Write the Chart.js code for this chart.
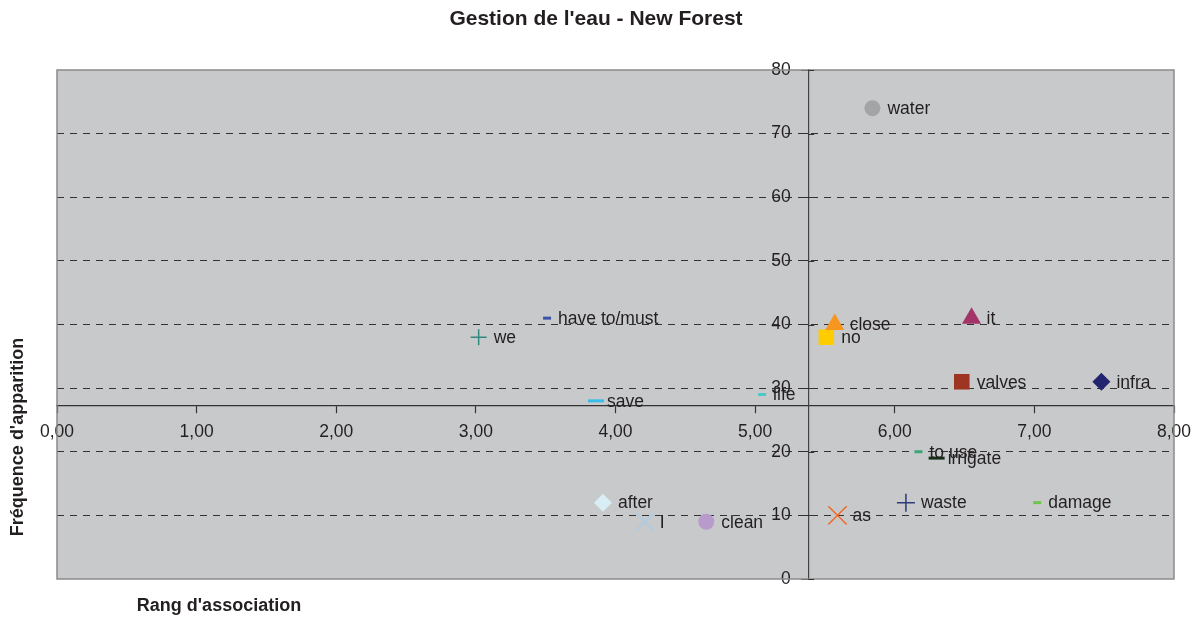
<!DOCTYPE html>
<html>
<head>
<meta charset="utf-8">
<script src="https://cdn.jsdelivr.net/npm/chart.js@4.4.1/dist/chart.umd.min.js"></script>
<style>
  html, body { margin: 0; padding: 0; background: #fff; }
  #wrap { width: 1202px; height: 619px; position: relative; }
</style>
</head>
<body>
<div id="wrap"><canvas id="chart"></canvas></div>
<script>
// words and their values (rang d'association, fréquence d'apparition)
const words = ["water", "we", "have to/must", "save", "life", "close", "no", "it", "valves", "infra",
  "to use", "irrigate", "waste", "damage", "as", "after", "I", "clean"];
const rangs = [5.84, 3.02, 3.51, 3.86, 5.05, 5.57, 5.51, 6.55, 6.48, 7.48,
  6.17, 6.30, 6.08, 7.02, 5.59, 3.91, 4.21, 4.65];
const freqs = [74, 38, 41, 28, 29, 40, 38, 41, 31, 31,
  20, 19, 12, 12, 10, 12, 9, 9];
const xTicks = [0, 1, 2, 3, 4, 5, 6, 7, 8];
const yTicks = [0, 10, 20, 30, 40, 50, 60, 70, 80];
const crossX = 5.38;  // mean rang, where the y axis crosses
const crossY = 27.3;  // mean frequency, where the x axis crosses

// marker style per word
const markers = [
  { style: "circle", color: "#a3a4a6", r: 8 },
  { style: "cross", color: "#2f8a80", r: 8, w: 1.5 },
  { style: "line", color: "#3a55a8", r: 4, w: 3 },
  { style: "line", color: "#38bde8", r: 8, w: 3 },
  { style: "line", color: "#4cc8c8", r: 4, w: 3 },
  { style: "triangle", color: "#f7961e", r: 11 },
  { style: "rect", color: "#ffcc00", r: 11 },
  { style: "triangle", color: "#a23468", r: 11 },
  { style: "rect", color: "#9e3522", r: 11 },
  { style: "rectRot", color: "#23256f", r: 9 },
  { style: "line", color: "#3aa878", r: 4, w: 3 },
  { style: "line", color: "#143018", r: 8, w: 3 },
  { style: "cross", color: "#2b3c78", r: 9, w: 1.5 },
  { style: "line", color: "#6cc648", r: 4, w: 3 },
  { style: "crossRot", color: "#ee6a2a", r: 13, w: 1.5 },
  { style: "rectRot", color: "#d8eef4", r: 9 },
  { style: "crossRot", color: "#a8cce8", r: 12, w: 1.5 },
  { style: "circle", color: "#b89bcc", r: 8 }
];

const datasets = words.map((w, i) => {
  const m = markers[i];
  const outline = m.style === "cross" || m.style === "crossRot" || m.style === "line";
  return {
    label: w,
    data: [{ x: rangs[i], y: freqs[i] }],
    pointStyle: m.style,
    pointRadius: m.r,
    pointHoverRadius: m.r,
    backgroundColor: m.color,
    borderColor: m.color,
    pointBorderWidth: outline ? m.w : 0
  };
});

const FONT = "'Liberation Sans', Arial, sans-serif";

const decor = {
  id: "decor",
  beforeDraw(chart) {
    const { ctx, chartArea: a } = chart;
    ctx.save();
    ctx.fillStyle = "#c8c9cb";
    ctx.fillRect(a.left, a.top, a.right - a.left, a.bottom - a.top);
    ctx.restore();
  },
  afterDatasetsDraw(chart) {
    const { ctx } = chart;
    ctx.save();
    ctx.font = "17.5px " + FONT;
    ctx.fillStyle = "#231f20";
    ctx.textBaseline = "middle";
    ctx.textAlign = "left";
    chart.data.datasets.forEach((ds, i) => {
      const el = chart.getDatasetMeta(i).data[0];
      const off = markers[i].style === "line" ? 11 : 15;
      ctx.fillText(ds.label, el.x + off, el.y + 1);
    });
    ctx.restore();
  },
  afterDraw(chart) {
    const { ctx, chartArea: a } = chart;
    ctx.save();
    ctx.strokeStyle = "#8a8b8d";
    ctx.lineWidth = 1.5;
    ctx.strokeRect(a.left, a.top, a.right - a.left, a.bottom - a.top);
    // inner half of the y axis tick marks (they cross the axis)
    const xs = chart.scales.x.getPixelForValue(crossX);
    ctx.strokeStyle = "#333";
    ctx.lineWidth = 1;
    yTicks.forEach(v => {
      const py = Math.round(chart.scales.y.getPixelForValue(v)) + 0.5;
      ctx.beginPath();
      ctx.moveTo(xs, py);
      ctx.lineTo(xs + 6, py);
      ctx.stroke();
    });
    ctx.fillStyle = "#231f20";
    ctx.font = "bold 21px " + FONT;
    ctx.textAlign = "center";
    ctx.textBaseline = "middle";
    ctx.fillText("Gestion de l'eau - New Forest", 596, 19);
    ctx.font = "bold 18px " + FONT;
    ctx.fillText("Rang d'association", 219, 606);
    ctx.translate(18, 437);
    ctx.rotate(-Math.PI / 2);
    ctx.fillText("Fréquence d'apparition", 0, 0);
    ctx.restore();
  }
};

new Chart(document.getElementById("chart"), {
  type: "scatter",
  data: { datasets },
  options: {
    responsive: true,
    maintainAspectRatio: false,
    animation: false,
    events: [],
    layout: { padding: { left: 57, right: 28, top: 70, bottom: 40 } },
    plugins: { legend: { display: false }, tooltip: { enabled: false }, title: { display: false } },
    scales: {
      x: {
        type: "linear",
        min: 0,
        max: 8,
        position: { y: crossY },
        afterBuildTicks: (s) => { s.ticks = xTicks.map(v => ({ value: v })); },
        ticks: {
          color: "#231f20",
          font: { size: 17.5, family: FONT },
          padding: 9,
          maxRotation: 0,
          callback: (v) => v.toFixed(2).replace(".", ",")
        },
        grid: { drawOnChartArea: false, drawTicks: true, tickLength: 7, tickColor: "#333", tickWidth: 1.2 },
        border: { display: true, color: "#333", width: 1.2 }
      },
      y: {
        type: "linear",
        min: 0,
        max: 80,
        position: { x: crossX },
        afterBuildTicks: (s) => { s.ticks = yTicks.map(v => ({ value: v })); },
        ticks: {
          color: "#231f20",
          font: { size: 17.5, family: FONT },
          padding: 4,
          // label sits flush on the axis at a value position, so pad it with spaces
          callback: (v) => String(v) + "\u2002\u2002"
        },
        grid: {
          color: (c) => (c.tick && (c.tick.value === 0 || c.tick.value === 80)) ? "rgba(0,0,0,0)" : "#333",
          lineWidth: 1,
          drawTicks: true,
          tickLength: 7,
          tickColor: "#333"
        },
        border: { display: true, color: "#444", width: 1.2, dash: [7, 6] }
      }
    }
  },
  plugins: [decor]
});
</script>
</body>
</html>
